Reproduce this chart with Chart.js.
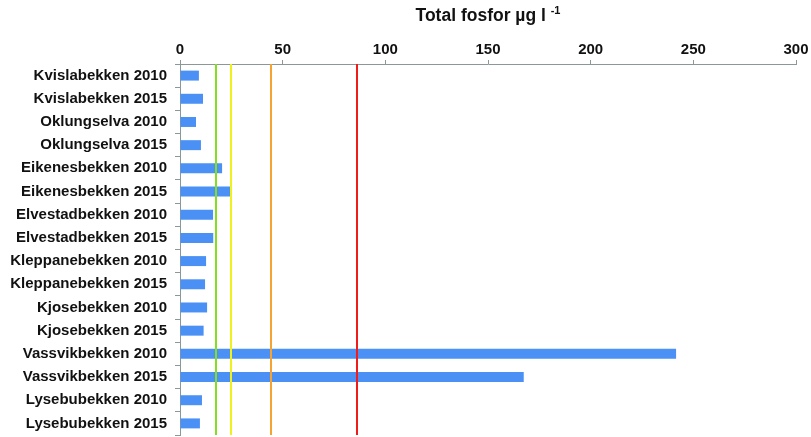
<!DOCTYPE html>
<html>
<head>
<meta charset="utf-8">
<script src="https://cdn.jsdelivr.net/npm/chart.js@4/dist/chart.umd.min.js"></script>
<style>
  html, body { margin: 0; padding: 0; background: #fff; }
  canvas { display: block; }
</style>
</head>
<body>
<canvas id="tpChart" width="811" height="437"></canvas>
<script>
// ── DATA ───────────────────────────────────────────────────────
const stations = [
  'Kvislabekken 2010', 'Kvislabekken 2015',
  'Oklungselva 2010', 'Oklungselva 2015',
  'Eikenesbekken 2010', 'Eikenesbekken 2015',
  'Elvestadbekken 2010', 'Elvestadbekken 2015',
  'Kleppanebekken 2010', 'Kleppanebekken 2015',
  'Kjosebekken 2010', 'Kjosebekken 2015',
  'Vassvikbekken 2010', 'Vassvikbekken 2015',
  'Lysebubekken 2010', 'Lysebubekken 2015',
];
const totP = [9.2, 11.2, 7.8, 10.2, 20.5, 24.4, 16.1, 16.2, 12.7, 12.2, 13.2, 11.5, 241.6, 167.4, 10.7, 9.7];

// class limits (µg/l) drawn as vertical lines
const classLimits = [17.5, 25, 44.5, 86];
const classColors = ['#84e01e', '#f0f01c', '#f7a332', '#f01c1c'];

const xMin = 0, xMax = 300, xStep = 50;
const titleMain = 'Total fosfor µg l';
const titleSup = '-1';

const AXIS_COLOR = '#8a9898';
const FONT = 'Liberation Sans, Arial, Helvetica, sans-serif';

// ── PLUGINS ────────────────────────────────────────────────────
// vertical class-limit lines on top of the bars
const limitLines = {
  id: 'limitLines',
  afterDatasetsDraw(chart) {
    const { ctx, chartArea, scales } = chart;
    ctx.save();
    ctx.lineWidth = 2;
    classLimits.forEach((v, i) => {
      const x = Math.round(scales.x.getPixelForValue(v));
      ctx.strokeStyle = classColors[i];
      ctx.beginPath();
      ctx.moveTo(x, chartArea.top);
      ctx.lineTo(x, chartArea.bottom);
      ctx.stroke();
    });
    ctx.restore();
  },
};

// axis title with superscript unit exponent
const unitTitle = {
  id: 'unitTitle',
  afterDraw(chart) {
    const { ctx, chartArea } = chart;
    ctx.save();
    ctx.fillStyle = '#111';
    ctx.textBaseline = 'middle';
    ctx.font = `bold 17.5px ${FONT}`;
    const wMain = ctx.measureText(titleMain + ' ').width;
    ctx.font = `bold 11px ${FONT}`;
    const wSup = ctx.measureText(titleSup).width;
    const cx = (chartArea.left + chartArea.right) / 2;
    const x0 = cx - (wMain + wSup) / 2;
    ctx.textAlign = 'left';
    ctx.font = `bold 17.5px ${FONT}`;
    ctx.fillText(titleMain, x0, 16);
    ctx.font = `bold 11px ${FONT}`;
    ctx.fillText(titleSup, x0 + wMain, 11);
    ctx.restore();
  },
};

// ── CHART ──────────────────────────────────────────────────────
const ctx = document.getElementById('tpChart').getContext('2d');
new Chart(ctx, {
  type: 'bar',
  data: {
    labels: stations,
    datasets: [{
      data: totP,
      backgroundColor: '#4a90f5',
      borderWidth: 0,
      barPercentage: 0.43,
      categoryPercentage: 1,
    }],
  },
  options: {
    indexAxis: 'y',
    responsive: false,
    animation: false,
    layout: { padding: { top: 0, right: 15, bottom: 2, left: 0 } },
    plugins: {
      legend: { display: false },
      tooltip: { enabled: false },
    },
    scales: {
      x: {
        position: 'top',
        min: xMin, max: xMax,
        afterFit: s => { s.height = 64; },
        grid: { drawOnChartArea: false, drawTicks: true, tickLength: 4, color: AXIS_COLOR, lineWidth: 1 },
        border: { color: AXIS_COLOR, width: 1 },
        ticks: {
          stepSize: xStep,
          padding: 1,
          color: '#111',
          font: { size: 15, weight: 'bold', family: FONT },
          maxRotation: 0,
        },
      },
      y: {
        afterFit: s => { s.width = 180; s.paddingTop = 0; s.paddingBottom = 0; },
        grid: { drawOnChartArea: false, drawTicks: true, tickLength: 5, color: AXIS_COLOR, offset: true },
        border: { color: AXIS_COLOR, width: 1 },
        ticks: {
          padding: 8,
          color: '#111',
          font: { size: 15, weight: 'bold', family: FONT },
          autoSkip: false,
        },
      },
    },
  },
  plugins: [limitLines, unitTitle],
});
</script>
</body>
</html>
